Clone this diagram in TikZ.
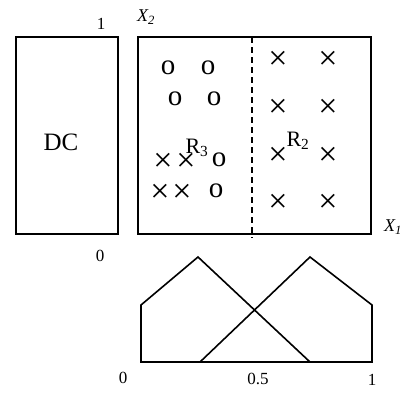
\documentclass[tikz,border=0pt]{standalone}
\usepackage{fontspec}
\setmainfont{Liberation Serif}
\begin{document}
\begin{tikzpicture}[x=1pt,y=-1pt,
  box/.style={draw,line width=2pt},
  lbl/.style={inner sep=0pt,font=\fontsize{17}{17}\selectfont},
  axl/.style={inner sep=0pt,font=\fontsize{18}{18}\selectfont\itshape},
  oo/.style={inner sep=0pt,font=\fontsize{29}{29}\selectfont},
  xx/.style={inner sep=0pt,font=\fontsize{34}{34}\selectfont},
  big/.style={inner sep=0pt,font=\fontsize{25}{25}\selectfont},
  reg/.style={inner sep=0pt,font=\fontsize{22}{22}\selectfont},
  curve/.style={line width=1.6pt,line join=miter}]
\useasboundingbox (0,0) rectangle (405,394);
% DC box
\draw[box] (16,37) rectangle (118,234);
\node[big] (dc) at (61,142) {DC};
\node[lbl] (one) at (101,24) {1};
\node[lbl] (zero) at (100,256) {0};
% main box
\draw[box] (138,37) rectangle (371,234);
\coordinate (dt) at (252,37);
\coordinate (db) at (252,238);
\draw[line width=1.6pt,dash pattern=on 6pt off 4pt] (dt) -- (db);
\node[axl] (x2) at (146,17) {X\textsubscript{2}};
\node[axl] (x1) at (393,227) {X\textsubscript{1}};
% o's
\node[oo] (o1) at (168,68) {o};
\node[oo] (o2) at (208,68) {o};
\node[oo] (o3) at (175,99) {o};
\node[oo] (o4) at (214,99) {o};
\node[oo] (o5) at (219,160) {o};
\node[oo] (o6) at (216,191) {o};
% crosses left
\node[xx] (a1) at (163,162) {×};
\node[xx] (a2) at (186,162) {×};
\node[xx] (a3) at (160,193) {×};
\node[xx] (a4) at (182,193) {×};
% crosses right
\foreach \yy [count=\i] in {60,108,156,203}{
  \node[xx] (b\i) at (278,\yy) {×};
  \node[xx] (c\i) at (328,\yy) {×};
}
\node[reg] (r3) at (197,148) {R\textsubscript{3}};
\node[reg] (r2) at (298,141) {R\textsubscript{2}};
% membership functions
\coordinate (p0) at (141,362);
\coordinate (p1) at (141,305);
\coordinate (p2) at (198,257);
\coordinate (p3) at (310,362);
\coordinate (q0) at (200,362);
\coordinate (q1) at (310,257);
\coordinate (q2) at (372,305);
\coordinate (q3) at (372,362);
\draw[curve] (p3) -- (p0) -- (p1) -- (p2) -- (p3) -- (q3) -- (q2) -- (q1) -- (q0);
\node[lbl] (m0) at (123,378) {0};
\node[lbl] (m5) at (258,379) {0.5};
\node[lbl] (m1) at (372,380) {1};
\end{tikzpicture}
\end{document}
